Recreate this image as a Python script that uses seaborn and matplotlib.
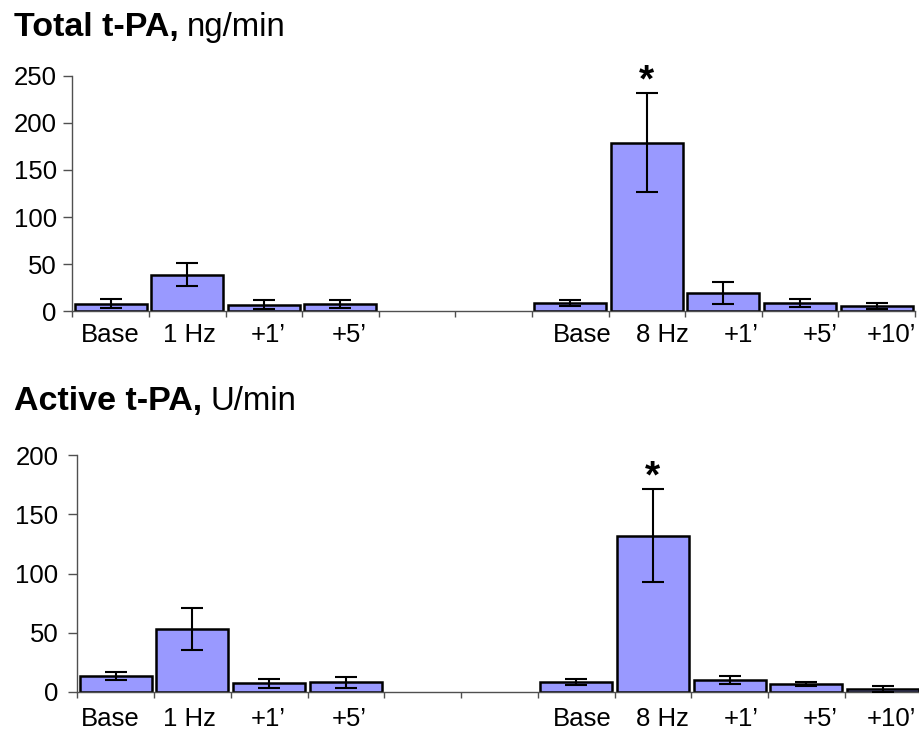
import numpy as np
import pandas as pd
import seaborn as sns
import matplotlib
matplotlib.use("Agg")
import matplotlib.pyplot as plt
from matplotlib.ticker import FixedLocator

# ---------------- data ----------------
labels_1hz = ["Base", "1 Hz", "+1\u2019", "+5\u2019"]
labels_8hz = ["Base", "8 Hz", "+1\u2019", "+5\u2019", "+10\u2019"]

total_1hz = [8, 39, 7, 8]
total_1hz_err = [5, 12, 4.5, 4]
total_8hz = [9, 179, 19.5, 9, 5.5]
total_8hz_err = [3.5, 52.5, 11.5, 4, 3]

active_1hz = [13, 53, 7, 8]
active_1hz_err = [3.5, 18, 3.5, 4.5]
active_8hz = [8, 132, 10, 6.5, 2.3]
active_8hz_err = [2.7, 39.5, 3.5, 1.5, 2.3]

significant = "8 Hz"

# ---------------- style ----------------
sns.set_style("white")
plt.rcParams["font.family"] = ["Liberation Sans", "DejaVu Sans"]
plt.rcParams["text.color"] = "black"
plt.rcParams["xtick.color"] = "black"
plt.rcParams["ytick.color"] = "black"
plt.rcParams["axes.labelcolor"] = "black"

BAR = "#9999FF"
AXC = "#505050"

keys_1hz = ["1Hz|" + l for l in labels_1hz]
keys_8hz = ["8Hz|" + l for l in labels_8hz]
order = keys_1hz + ["gap1", "gap2"] + keys_8hz
all_labels = labels_1hz + labels_8hz

# pixel centres of the category labels (layout, same in both panels)
label_px = [110, 189, 268, 349, 582, 662, 741, 820, 891]

W, H = 919, 734
fig = plt.figure(figsize=(W / 100, H / 100), dpi=100)

panels = [
    dict(pos=[72.3 / W, 0.5759, (915 - 72.3) / W, 0.3210], ylim=250,
         vals=(total_1hz, total_8hz), errs=(total_1hz_err, total_8hz_err),
         title_b="Total t-PA,", title_r="ng/min", title_y=1 - 36 / H,
         ypad=4.7, xpad=8.5),
    dict(pos=[77.3 / W, 0.0576, (921.5 - 77.3) / W, 0.3221], ylim=200,
         vals=(active_1hz, active_8hz), errs=(active_1hz_err, active_8hz_err),
         title_b="Active t-PA,", title_r="U/min", title_y=1 - 410 / H,
         ypad=7, xpad=11),
]

for p in panels:
    ax = fig.add_axes(p["pos"])
    v1, v8 = p["vals"]
    e1, e8 = p["errs"]
    df = pd.DataFrame({
        "slot": keys_1hz + keys_8hz,
        "value": list(v1) + list(v8),
        "err": list(e1) + list(e8),
        "label": all_labels,
    })
    sns.barplot(data=df, x="slot", y="value", order=order, color=BAR,
                saturation=1, width=0.94, edgecolor="black", linewidth=1.8,
                errorbar=None, ax=ax)
    xpos = [order.index(k) for k in df["slot"]]
    ax.errorbar(xpos, df["value"], yerr=df["err"], fmt="none", ecolor="black",
                elinewidth=1.5, capsize=8, capthick=1.5, zorder=5)
    # significance star
    for x, (_, r) in zip(xpos, df.iterrows()):
        if r["label"] == significant:
            ax.annotate("*", xy=(x, r["value"] + r["err"]), xytext=(0, 1),
                        textcoords="offset points", ha="center", va="baseline",
                        fontsize=28, fontweight="bold", color="black")

    ax.set_xlim(-0.5, len(order) - 0.5)
    ax.set_ylim(0, p["ylim"])
    ax.set_yticks(np.arange(0, p["ylim"] + 1, 50))
    ax.set_xlabel("")
    ax.set_ylabel("")

    # label positions converted from pixels to data coordinates
    left_px = p["pos"][0] * W
    width_px = p["pos"][2] * W
    n = len(order)
    xt = [-0.5 + (px - left_px) / width_px * n for px in label_px]
    ax.xaxis.set_major_locator(FixedLocator(xt))
    ax.set_xticklabels(all_labels)
    ax.xaxis.set_minor_locator(FixedLocator(np.arange(-0.5, n, 1.0)))
    ax.tick_params(axis="x", which="major", length=0, labelsize=18.5,
                   pad=p["xpad"], labelcolor="black")
    ax.tick_params(axis="x", which="minor", length=4, width=1, color=AXC,
                   direction="out", bottom=True)
    ax.tick_params(axis="y", length=6.5, width=1, color=AXC, labelsize=18.5,
                   pad=p["ypad"], direction="out", left=True, labelcolor="black")

    for s in ["top", "right"]:
        ax.spines[s].set_visible(False)
    for s in ["left", "bottom"]:
        ax.spines[s].set_color(AXC)
        ax.spines[s].set_linewidth(1)

    # title: bold part + regular part
    tb = fig.text(14 / W, p["title_y"], p["title_b"], fontsize=24.5,
                  fontweight="bold", ha="left", va="baseline", color="black")
    fig.canvas.draw()
    bb = tb.get_window_extent(renderer=fig.canvas.get_renderer())
    fig.text((bb.x1 + 8) / W, p["title_y"], p["title_r"], fontsize=23.8,
             ha="left", va="baseline", color="black")

fig.savefig("out.png", dpi=100)
